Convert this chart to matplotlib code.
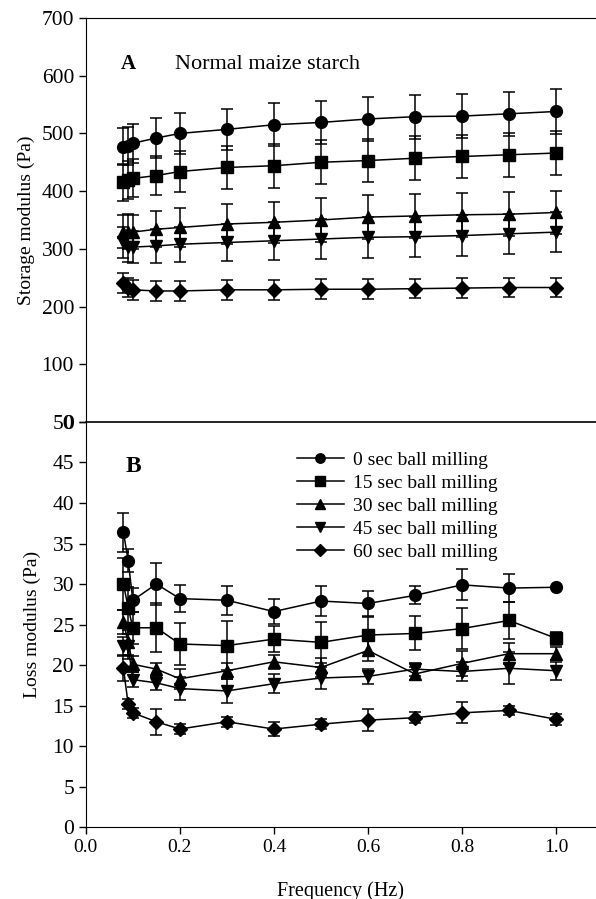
import matplotlib
matplotlib.use("Agg")
import matplotlib.pyplot as plt
import numpy as np

plt.rcParams['font.family'] = ['Liberation Serif', 'DejaVu Serif']
plt.rcParams['font.size'] = 14

freq = [0.08, 0.09, 0.1, 0.15, 0.2, 0.3, 0.4, 0.5, 0.6, 0.7, 0.8, 0.9, 1.0]
labels = ["0 sec ball milling", "15 sec ball milling", "30 sec ball milling",
          "45 sec ball milling", "60 sec ball milling"]
markers = ['o', 's', '^', 'v', 'D']

# storage modulus G' (Pa)
g1_0 = [477, 478, 483, 492, 500, 507, 515, 519, 525, 529, 530, 534, 538]
g1_15 = [415, 419, 422, 427, 434, 441, 444, 450, 453, 457, 460, 463, 466]
g1_30 = [330, 330, 329, 334, 337, 343, 346, 350, 355, 357, 359, 360, 363]
g1_45 = [311, 304, 303, 305, 308, 311, 314, 317, 320, 321, 323, 326, 329]
g1_60 = [241, 233, 229, 227, 227, 229, 229, 230, 230, 231, 232, 233, 233]
g1_err_0 = [32, 33, 34, 35, 36, 36, 37, 37, 38, 38, 38, 38, 39]
g1_err_15 = [32, 33, 33, 34, 36, 38, 38, 38, 38, 38, 38, 38, 38]
g1_err_30 = [29, 30, 30, 31, 33, 34, 36, 38, 38, 38, 38, 38, 37]
g1_err_45 = [26, 27, 28, 29, 30, 32, 33, 35, 35, 35, 35, 35, 35]
g1_err_60 = [17, 17, 17, 17, 17, 17, 17, 17, 17, 17, 17, 17, 17]

# loss modulus G'' (Pa)
g2_0 = [36.4, 32.9, 28.0, 30.0, 28.2, 28.0, 26.6, 27.9, 27.6, 28.6, 29.9, 29.5, 29.6]
g2_15 = [30.0, 27.1, 24.6, 24.6, 22.6, 22.4, 23.2, 22.8, 23.7, 23.9, 24.5, 25.5, 23.3]
g2_30 = [25.3, 22.8, 20.1, 19.5, 18.3, 19.3, 20.4, 19.7, 21.8, 18.9, 20.2, 21.4, 21.4]
g2_45 = [22.3, 22.3, 18.2, 17.8, 17.1, 16.8, 17.7, 18.4, 18.6, 19.5, 19.2, 19.6, 19.3]
g2_60 = [19.6, 15.2, 14.1, 13.0, 12.1, 13.0, 12.1, 12.7, 13.2, 13.5, 14.1, 14.4, 13.3]
g2_err_0 = [2.4, 1.4, 1.5, 2.6, 1.7, 1.8, 1.5, 1.8, 1.6, 1.1, 1.9, 1.7, 0.0]
g2_err_15 = [3.2, 2.5, 2.0, 3.0, 2.6, 3.0, 1.6, 2.5, 2.2, 2.1, 2.5, 2.3, 0.8]
g2_err_30 = [1.5, 1.5, 1.0, 0.8, 1.2, 1.0, 0.9, 1.2, 1.3, 0.8, 1.5, 1.3, 0.8]
g2_err_45 = [1.2, 1.5, 0.9, 0.9, 1.4, 1.5, 1.2, 1.4, 0.9, 0.8, 1.2, 2.0, 1.1]
g2_err_60 = [1.6, 0.6, 0.6, 1.6, 0.6, 0.6, 0.9, 0.6, 1.4, 0.7, 1.3, 0.6, 0.7]

storage = [g1_0, g1_15, g1_30, g1_45, g1_60]
storage_err = [g1_err_0, g1_err_15, g1_err_30, g1_err_45, g1_err_60]
loss = [g2_0, g2_15, g2_30, g2_45, g2_60]
loss_err = [g2_err_0, g2_err_15, g2_err_30, g2_err_45, g2_err_60]

fig = plt.figure(figsize=(5.96, 8.99), dpi=100)
ax_a = fig.add_axes([0.144, 0.5306, 0.856, 0.4494])
ax_b = fig.add_axes([0.144, 0.080, 0.856, 0.4506])

style = dict(color='black', lw=1.1, elinewidth=1.1, capsize=4, capthick=1.1)
for y, e, m in zip(storage, storage_err, markers):
    ax_a.errorbar(freq, y, yerr=e, marker=m, ms=7.5 if m == 'D' else 8.5, **style)
handles = []
for y, e, m in zip(loss, loss_err, markers):
    h = ax_b.errorbar(freq, y, yerr=e, marker=m, ms=7.5 if m == 'D' else 8.5, **style)
    handles.append(h[0])

for ax in (ax_a, ax_b):
    ax.set_xlim(0, 1.085)
    ax.spines['right'].set_visible(False)
    ax.tick_params(direction='out', length=5, width=1)
    ax.tick_params(axis='y', labelsize=15.5)
    ax.tick_params(axis='x', labelsize=14)
    ax.set_facecolor('none')

ax_a.set_ylim(0, 700)
ax_a.set_yticks(np.arange(0, 701, 100))
ax_a.spines['bottom'].set_visible(False)
ax_a.tick_params(axis='x', bottom=False, labelbottom=False)
ax_a.set_ylabel("Storage modulus (Pa)", fontsize=14, labelpad=5)
ax_a.text(0.075, 620, "A", fontweight='bold', fontsize=15, va='center')
ax_a.text(0.19, 620, "Normal maize starch", fontsize=16, va='center')

ax_b.set_ylim(0, 50)
ax_b.set_yticks(np.arange(0, 51, 5))
ax_b.set_xticks(np.arange(0, 1.01, 0.2))
ax_b.xaxis.set_major_formatter(matplotlib.ticker.FormatStrFormatter('%.1f'))
ax_b.spines['top'].set_linewidth(1.2)
ax_b.set_ylabel("Loss modulus (Pa)", fontsize=14, labelpad=8)
ax_b.set_xlabel("Frequency (Hz)", fontsize=14.5, labelpad=18)
ax_b.text(0.085, 44.5, "B", fontweight='bold', fontsize=17, va='center')

ax_b.legend(handles=handles, labels=labels, loc='upper left',
            bbox_to_anchor=(0.485, 0.507), bbox_transform=fig.transFigure,
            frameon=False, fontsize=14, handlelength=2.4, handletextpad=0.5,
            labelspacing=0.28, markerscale=0.8, borderaxespad=0)

fig.savefig("out.png", dpi=100)
